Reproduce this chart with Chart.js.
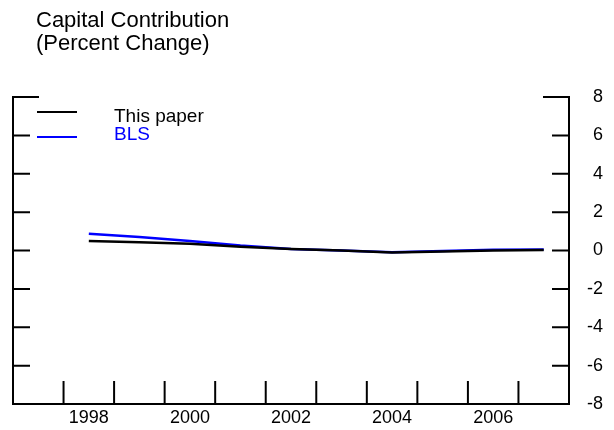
<!DOCTYPE html>
<html>
<head>
<meta charset="utf-8">
<script src="https://cdn.jsdelivr.net/npm/chart.js@4.4.0/dist/chart.umd.min.js"></script>
<style>
  html, body { margin: 0; padding: 0; background: #fff; }
  #wrap { width: 614px; height: 430px; }
</style>
</head>
<body>
<div id="wrap"><canvas id="chart" width="614" height="430"></canvas></div>
<script>
const years = ['1997', '1998', '1999', '2000', '2001', '2002', '2003', '2004', '2005', '2006', '2007'];
const thisPaper = [null, 0.50, 0.43, 0.35, 0.20, 0.08, 0.00, -0.11, -0.05, 0.00, 0.03];
const bls = [null, 0.87, 0.70, 0.50, 0.26, 0.08, 0.00, -0.09, -0.02, 0.04, 0.05];
const yTicks = [-8, -6, -4, -2, 0, 2, 4, 6, 8];
const titleLines = ['Capital Contribution', '(Percent Change)'];

const FONT = 'Liberation Sans, Arial, sans-serif';

// axes frame, inward tick marks, title and legend
const framePlugin = {
    id: 'frame',
    afterDraw(chart) {
        const ctx = chart.ctx;
        const area = chart.chartArea;
        const x = chart.scales.x;
        const y = chart.scales.y;
        ctx.save();
        ctx.strokeStyle = '#000';
        ctx.lineWidth = 2;
        ctx.lineCap = 'square';

        // frame: left, bottom, right
        ctx.beginPath();
        ctx.moveTo(area.left, area.top);
        ctx.lineTo(area.left, area.bottom);
        ctx.lineTo(area.right, area.bottom);
        ctx.lineTo(area.right, area.top);
        ctx.stroke();

        ctx.lineCap = 'butt';
        // y ticks on both sides
        yTicks.forEach(v => {
            const py = y.getPixelForValue(v);
            const len = v === 8 ? 26 : 17;
            ctx.beginPath();
            ctx.moveTo(area.left, py);
            ctx.lineTo(area.left + len, py);
            ctx.moveTo(area.right, py);
            ctx.lineTo(area.right - len, py);
            ctx.stroke();
        });

        // x ticks at year boundaries
        for (let i = 0; i < years.length - 1; i++) {
            const px = (x.getPixelForValue(i) + x.getPixelForValue(i + 1)) / 2;
            ctx.beginPath();
            ctx.moveTo(px, area.bottom);
            ctx.lineTo(px, area.bottom - 23);
            ctx.stroke();
        }

        // title
        ctx.fillStyle = '#000';
        ctx.font = '22px ' + FONT;
        ctx.textBaseline = 'alphabetic';
        ctx.textAlign = 'left';
        ctx.fillText(titleLines[0], 36, 27);
        ctx.fillText(titleLines[1], 36, 50);

        // legend
        ctx.font = '19px ' + FONT;
        chart.data.datasets.forEach((ds, i) => {
            const ly = i === 0 ? 112 : 137;
            ctx.strokeStyle = ds.borderColor;
            ctx.lineWidth = 2;
            ctx.beginPath();
            ctx.moveTo(37, ly);
            ctx.lineTo(77, ly);
            ctx.stroke();
            ctx.fillStyle = ds.borderColor;
            ctx.fillText(ds.label, 114, i === 0 ? 122 : 140);
        });
        ctx.restore();
    }
};

new Chart(document.getElementById('chart'), {
    type: 'line',
    data: {
        labels: years,
        datasets: [
            { label: 'This paper', data: thisPaper, borderColor: '#000000', borderWidth: 2.5, pointRadius: 0, tension: 0 },
            { label: 'BLS', data: bls, borderColor: '#0000ff', borderWidth: 2.5, pointRadius: 0, tension: 0 }
        ]
    },
    options: {
        responsive: false,
        animation: false,
        layout: { padding: { left: 13, right: 11, top: 97, bottom: 0 } },
        plugins: {
            legend: { display: false },
            title: { display: false },
            tooltip: { enabled: false }
        },
        scales: {
            x: {
                type: 'category',
                offset: true,
                grid: { display: false, drawTicks: false },
                border: { display: false },
                ticks: {
                    autoSkip: false,
                    maxRotation: 0,
                    padding: 3,
                    color: '#000',
                    font: { family: FONT, size: 18 },
                    callback: function(val, i) {
                        const yr = years[i];
                        return Number(yr) % 2 === 0 ? yr : '';
                    }
                },
                afterFit: s => { s.height = 26; }
            },
            y: {
                position: 'right',
                min: -8,
                max: 8,
                grid: { display: false, drawTicks: false },
                border: { display: false },
                ticks: {
                    stepSize: 2,
                    crossAlign: 'far',
                    color: '#000',
                    font: { family: FONT, size: 18 }
                },
                afterFit: s => { s.width = 34; }
            }
        }
    },
    plugins: [framePlugin]
});
</script>
</body>
</html>
